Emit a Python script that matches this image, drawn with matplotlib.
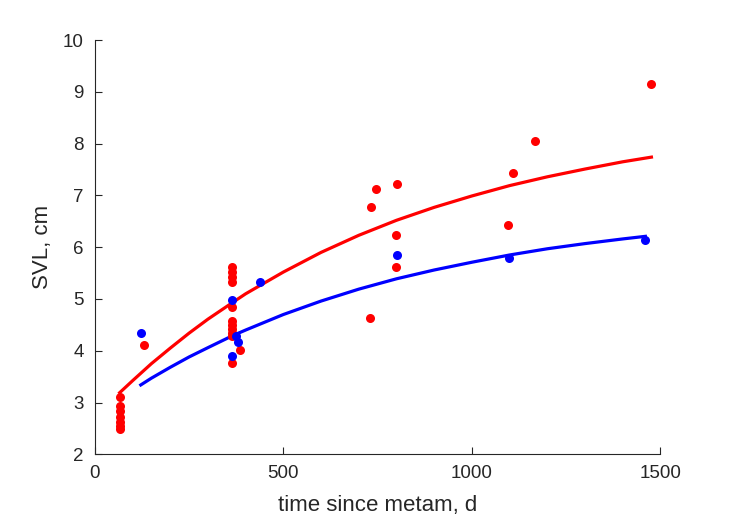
import numpy as np
import matplotlib
matplotlib.use("Agg")
from matplotlib import pyplot

pyplot.rcParams['font.family'] = ['Liberation Sans', 'DejaVu Sans']

# observed SVL (cm) against days since metamorphosis
redDays = [68, 68, 68, 68, 68, 68, 68, 130,
           365, 365, 365, 365, 365, 365, 365, 365, 365, 365, 365, 386,
           730, 733, 746, 801, 800, 800, 1095, 1110, 1166, 1476]
redSvl = [3.10, 2.93, 2.83, 2.72, 2.62, 2.55, 2.48, 4.11,
          5.62, 5.52, 5.42, 5.32, 4.84, 4.58, 4.50, 4.42, 4.35, 4.28, 3.77, 4.01,
          4.64, 6.78, 7.13, 7.22, 6.23, 5.61, 6.42, 7.43, 8.05, 9.16]

blueDays = [122, 365, 375, 380, 365, 439, 802, 1099, 1460]
blueSvl = [4.35, 4.98, 4.28, 4.16, 3.89, 5.33, 5.84, 5.79, 6.13]

# fitted growth curves
redFitDays = [66, 100, 150, 200, 250, 300, 365, 400, 500, 600, 700, 800,
              900, 1000, 1100, 1200, 1300, 1400, 1476]
redFitSvl = [3.19, 3.42, 3.75, 4.05, 4.34, 4.61, 4.93, 5.10, 5.52, 5.90,
             6.23, 6.52, 6.77, 6.99, 7.19, 7.36, 7.51, 7.65, 7.74]

blueFitDays = [122, 150, 200, 250, 300, 365, 400, 500, 600, 700, 800,
               900, 1000, 1100, 1200, 1300, 1400, 1460]
blueFitSvl = [3.34, 3.47, 3.68, 3.88, 4.06, 4.29, 4.40, 4.70, 4.96, 5.19,
              5.39, 5.56, 5.71, 5.85, 5.97, 6.07, 6.16, 6.21]

xTicks = [0, 500, 1000, 1500]
yTicks = np.arange(2, 11)

axisColor = '#262626'

fig = pyplot.figure(figsize=(7.29, 5.21), dpi=100)
ax = fig.add_axes([0.130, 0.128, 0.776, 0.795])

ax.plot(redDays, redSvl, 'o', color=(1, 0, 0), ms=6.5, mew=0, clip_on=False, zorder=3)
ax.plot(blueDays, blueSvl, 'o', color=(0, 0, 1), ms=6.5, mew=0, clip_on=False, zorder=3)
ax.plot(redFitDays, redFitSvl, '-', color=(1, 0, 0), lw=2.3, zorder=2)
ax.plot(blueFitDays, blueFitSvl, '-', color=(0, 0, 1), lw=2.3, zorder=2)

ax.set_xlim(0, 1500)
ax.set_ylim(2, 10)
ax.set_xticks(xTicks)
ax.set_yticks(yTicks)

ax.spines['top'].set_visible(False)
ax.spines['right'].set_visible(False)
for s in ['left', 'bottom']:
    ax.spines[s].set_color(axisColor)
    ax.spines[s].set_linewidth(0.8)

ax.tick_params(direction='in', length=5, width=0.8, colors=axisColor,
               labelsize=13.5, pad=8)

ax.set_xlabel("time since metam, d", fontsize=16, color=axisColor, labelpad=9)
ax.set_ylabel("SVL, cm", fontsize=16, color=axisColor, labelpad=7)

fig.savefig("out.png", dpi=100)
